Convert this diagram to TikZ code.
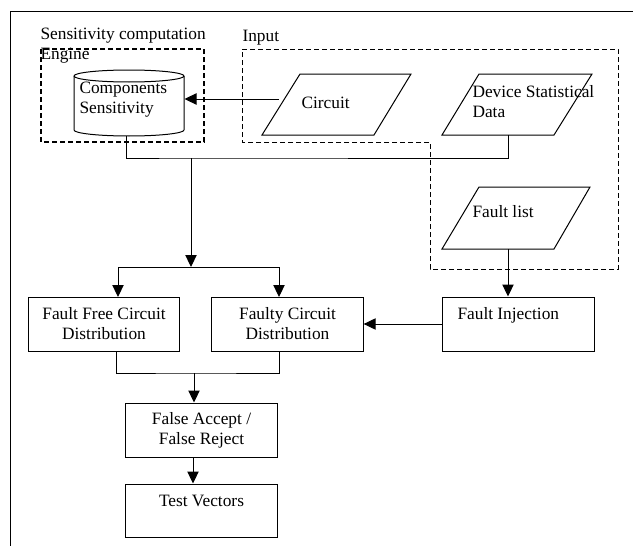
\documentclass[tikz,border=0pt]{standalone}
\usepackage{fontspec}
\setmainfont{Liberation Serif}
\usetikzlibrary{arrows.meta,calc}
\begin{document}
\begin{tikzpicture}[x=0.75pt,y=-0.75pt,line width=0.75pt,
  txt/.style={inner sep=0pt,anchor=west,align=left,font=\fontsize{13}{15}\selectfont},
  ctxt/.style={inner sep=0pt,align=center,font=\fontsize{13}{15}\selectfont},
  procbox/.style={draw,inner sep=0pt,minimum width=113.5pt,minimum height=40.5pt,align=center,font=\fontsize{13}{15}\selectfont},
  arr/.style={-{Triangle[length=9pt,width=8.5pt]}},
  engdash/.style={line width=1.5pt,dash pattern=on 3.75pt off 2.25pt},
  indash/.style={line width=0.75pt,dash pattern=on 3.75pt off 2.25pt}]
\useasboundingbox (0,0) rectangle (633,546);
% frame
\draw (633,11) -- (10,11) -- (10,546);
% labels
\node[txt] (sclab) at (40,36) {Sensitivity computation};
\node[txt] (englab) at (40,56) {Engine};
\node[txt] (inlab) at (242,38) {Input};
% engine dashed box
\draw[engdash] (41,49) rectangle (204,142);
% input dashed region
\draw[indash] (242,49) -- (618,49) -- (618,269) -- (430,269) -- (430,142) -- (242,142) -- cycle;
% cylinder
\draw (74,76) -- (74,130) arc[start angle=180,end angle=360,x radius=41.25pt,y radius=4.5pt] -- (184,76);
\draw (129,76) ellipse [x radius=41.25pt,y radius=4.5pt];
\node[inner sep=0pt,minimum width=82.5pt,minimum height=49.5pt] (cyl) at (129,103) {};
\node[txt] (comp) at (79,100) {Components\\Sensitivity};
% parallelograms
\draw (300,74) -- (411,74) -- (374,135) -- (262,135) -- cycle;
\node[txt] (circ) at (301,103) {Circuit};
\draw (479,74) -- (592,74) -- (554,135) -- (442,135) -- cycle;
\node[txt] (dev) at (472,101.5) {Device Statistical\\Data};
\draw (479,187) -- (590,187) -- (554,249) -- (442,249) -- cycle;
\node[txt] (flist) at (472,212) {Fault list};
% process boxes
\node[procbox] (ffc) at (104,324) {Fault Free Circuit\\Distribution};
\node[procbox] (fcd) at (287.5,324) {Faulty Circuit\\Distribution};
\node[procbox,minimum width=114pt] (fi) at (518,324) {};
\node[txt] (filab) at (457,315) {Fault Injection};
\node[procbox] (fa) at (201.5,430) {False Accept /\\False Reject};
\node[procbox,minimum height=39.75pt] (tv) at (201.5,510.5) {};
\node[ctxt] (tvlab) at (201.5,501) {Test Vectors};
% connector points
\coordinate (circin) at (279,99);
\coordinate (cylb) at (126,136);
\coordinate (devb) at (508,135);
\coordinate (bus) at (191,158);
\coordinate (split) at (191,267);
\coordinate (ffcin) at (118,297);
\coordinate (fcdin) at (279,297);
\coordinate (flb) at (508,249);
\coordinate (ffcout) at (116,351);
\coordinate (fcdout) at (279,351);
\coordinate (merge) at (194,373);
\coordinate (faout) at (193,457);
% connectors
\draw[arr] (circin) -- (cyl.east |- circin);
\draw (cylb) |- (bus) -| (devb);
\draw[arr] (bus) -- (split);
\draw[arr] (split) -| (ffcin);
\draw[arr] (split) -| (fcdin);
\draw[arr] (flb) -- (flb |- fi.north);
\draw[arr] (fi.west) -- (fcd.east);
\draw (ffcout) |- (merge) -| (fcdout);
\draw[arr] (merge) -- (merge |- fa.north);
\draw[arr] (faout) -- (faout |- tv.north);
\end{tikzpicture}
\end{document}
